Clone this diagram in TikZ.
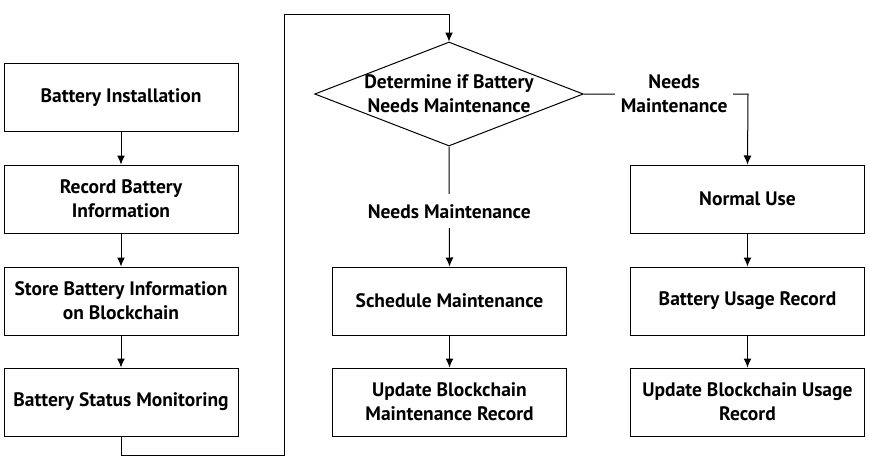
\documentclass[tikz,border=0pt]{standalone}
\usepackage{fontspec}
\setmainfont{PT Sans}
\usetikzlibrary{arrows.meta}
\usetikzlibrary{shapes.geometric}

\tikzset{
  stepbox/.style={draw, minimum width=234pt, minimum height=68pt, align=center, inner sep=2pt},
  decide/.style={draw, diamond, aspect=2.6, minimum width=268pt, minimum height=104pt, align=center, inner sep=0pt},
  lbl/.style={fill=white, align=center, inner xsep=6pt, inner ysep=10pt},
}

\begin{document}
\begin{tikzpicture}[x=1pt, y=-1pt, line width=1pt, >={Latex[length=9pt,width=8pt]},
  font=\fontsize{19.5}{24}\selectfont\bfseries]
\useasboundingbox (0,0) rectangle (870,469);

% left column
\node[stepbox] (install) at (121,97.5) {Battery Installation};
\node[stepbox] (record) at (121,199) {Record Battery\\Information};
\node[stepbox] (store) at (121,301) {Store Battery Information\\on Blockchain};
\node[stepbox] (monitor) at (121,402) {Battery Status Monitoring};

% decision and branches
\node[decide] (check) at (449,94) {Determine if Battery\\Needs Maintenance};
\node[stepbox] (sched) at (449.5,301) {Schedule Maintenance};
\node[stepbox] (updmaint) at (449.5,402) {Update Blockchain\\Maintenance Record};
\node[stepbox] (normal) at (747.5,199) {Normal Use};
\node[stepbox] (usage) at (747.5,301) {Battery Usage Record};
\node[stepbox] (updusage) at (747.5,402) {Update Blockchain Usage\\Record};

\coordinate (loopA) at (284,455);
\coordinate (loopB) at (284,14);
\coordinate (turn) at (748,94);

\draw[->] (install) -- (record);
\draw[->] (record) -- (store);
\draw[->] (store) -- (monitor);
\draw[->] (monitor.south) |- (loopA) -- (loopB) -| (check.north);
\draw[->] (check.south) -- node[lbl, pos=0.54] {Needs Maintenance} (sched.north);
\draw[->] (check.east) -- node[lbl, pos=0.55, inner ysep=2pt] {Needs\\Maintenance} (turn) -- (normal.north);
\draw[->] (sched) -- (updmaint);
\draw[->] (normal) -- (usage);
\draw[->] (usage) -- (updusage);
\end{tikzpicture}
\end{document}
